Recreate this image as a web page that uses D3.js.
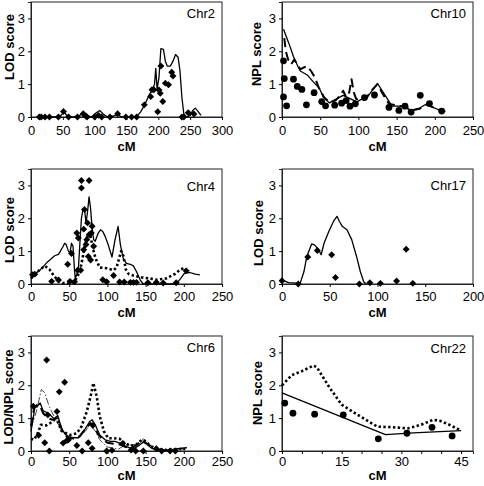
<!DOCTYPE html>
<html><head><meta charset="utf-8">
<script src="https://cdn.jsdelivr.net/npm/d3@7"></script>
<style>
html,body{margin:0;padding:0;background:#fff;}
svg{display:block;font-family:"Liberation Sans",Arial,Helvetica,sans-serif;}
</style></head>
<body><svg id="c" width="484" height="486"></svg>
<script>
// ---------- DATA ----------
const yTicks = [0, 1, 2, 3];
const chr2Ticks = [0, 50, 100, 150, 200, 250, 300];
const chr10Ticks = [0, 50, 100, 150, 200, 250];
const chr4Ticks = [0, 50, 100, 150, 200, 250];
const chr17Ticks = [0, 50, 100, 150, 200];
const chr6Ticks = [0, 50, 100, 150, 200, 250];
const chr22Ticks = [0, 15, 30, 45];
const chr22MinorTicks = [0,5,10,15,20,25,30,35,40,45];

const chr2Markers = [[13,0],[16,0],[22,0],[29,0],[43,0],[51,0.17],[59,0],[73,0],[82,0.1],[86,0.03],[88,0],[100,0],[106,0.05],[111,0],[124,0],[136,0.1],[149,0],[158,0],[166,0],[178,0.37],[188,0.62],[190,0.83],[193,0.83],[199,0.16],[201,0.82],[203,0.72],[204,1.55],[207,0.47],[211,1.03],[216,0.98],[221,1.36],[223,1.25],[237,0],[240,0],[247,0.13],[256,0.09]];
const chr2Solid = [[10,0],[40,0],[47,0.05],[52,0.15],[57,0.03],[65,0],[75,0.02],[82,0.14],[88,0.05],[95,0],[102,0.12],[108,0.2],[114,0.08],[120,0],[130,0.03],[136,0.08],[142,0],[165,0],[172,0.15],[178,0.35],[185,0.65],[191,0.85],[194,1.0],[196,1.48],[198,0.85],[201,1.2],[204,2.08],[208,2.06],[211,1.7],[214,1.55],[219,1.55],[223,1.7],[227,1.9],[231,1.82],[234,1.4],[237,0.6],[240,0.1],[244,0],[250,0.05],[254,0.2],[258,0.27],[262,0.18],[267,0.05]];

const chr10Dots = [[2,1.71],[2,0.61],[3,1.17],[6,0.34],[15,1.15],[20,0.93],[26,0.84],[32,0.37],[42,0.74],[52,0.47],[57,0.34],[69,0.36],[78,0.42],[84,0.5],[89,0.33],[96,0.4],[108,0.59],[121,0.67],[140,0.29],[153,0.2],[161,0.33],[169,0.15],[181,0.66],[193,0.41],[209,0.18]];
const chr10Solid = [[2,2.67],[9,2.24],[15,1.84],[21,1.53],[24,1.4],[33,1.28],[41,1.07],[49,0.87],[54,0.61],[62,0.43],[72,0.56],[80,0.66],[89,0.56],[98,0.46],[107,0.58],[115,0.71],[125,1.02],[135,0.66],[144,0.33],[153,0.33],[161,0.3],[169,0.2],[179,0.26],[190,0.41],[196,0.31],[205,0.22],[214,0.17]];
const chr10Dashed = [[3,2.4],[5,2.0],[8,1.75],[12,1.6],[16,1.75],[20,1.6],[24,1.45],[28,1.5],[33,1.55],[38,1.4],[43,1.2],[48,0.9],[55,0.6],[62,0.45],[70,0.5],[76,0.65],[80,0.8],[84,0.6],[88,0.75],[91,1.15],[94,0.75],[97,0.55],[103,0.5],[110,0.55],[117,0.8],[125,1.0],[132,0.7],[140,0.4],[150,0.35],[160,0.32],[170,0.2],[180,0.25],[190,0.38],[197,0.3],[205,0.22],[212,0.17]];

const chr4Markers = [[2,0.28],[5,0.3],[27,0.08],[36,0.12],[48,0.6],[53,0.93],[51,0.08],[57,0.07],[60,1.55],[62,1.4],[61,0.42],[65,0.42],[66,3.15],[66,2.92],[69,1.67],[69,1.04],[70,2.27],[72,1.2],[73,1.35],[74,1.86],[75,0.84],[76,3.15],[76,1.5],[78,0.73],[79,1.55],[80,1.76],[82,1.15],[94,0.13],[99,0.07],[108,0.26],[116,0.06],[122,0.06],[130,0.05],[134,0.05],[138,0.05],[153,0.04],[164,0.05],[173,0.03],[190,0.04],[203,0.4]];
const chr4Solid = [[0,0.22],[6,0.32],[12,0.43],[22,0.68],[31,0.86],[36,0.9],[42,1.14],[44,1.24],[46,1.2],[49,1.0],[51,0.95],[53,1.24],[55,1.15],[57,0.4],[58,0.17],[60,0.3],[62,0.45],[64,1.24],[66,2.0],[68,2.26],[70,2.3],[72,1.85],[74,2.2],[76,2.65],[78,2.3],[80,1.7],[82,1.35],[84,1.3],[88,1.55],[91,1.65],[94,1.6],[97,1.45],[101,1.2],[106,0.82],[110,1.35],[114,1.75],[117,1.2],[121,0.76],[125,0.63],[130,0.6],[134,0.55],[138,0.38],[143,0.12],[147,0],[190,0],[196,0.17],[201,0.33],[208,0.35],[215,0.3],[221,0.28]];
const chr4Dotted = [[0,0.17],[5,0.28],[10,0.4],[18,0.55],[24,0.45],[30,0.25],[36,0.1],[42,0.03],[50,0.02],[57,0.07],[62,0.3],[65,0.5],[68,0.85],[71,1.2],[74,1.5],[77,1.55],[80,1.2],[83,0.9],[86,0.7],[90,0.5],[99,0.48],[108,0.42],[112,0.5],[115,0.75],[118,1.0],[121,0.85],[124,0.45],[128,0.3],[135,0.25],[145,0.2],[155,0.17],[165,0.13],[177,0.17],[188,0.3],[196,0.45],[201,0.48],[206,0.38]];

const chr17Markers = [[0,0.1],[17,0],[27,0.82],[37,1.02],[52,0.89],[56,0.2],[81,0],[92,0.04],[103,0.02],[120,0.09],[130,1.06],[137,0.02]];
const chr17Solid = [[0,0.12],[7,0.04],[19,0.02],[23,0.38],[26,0.84],[31,1.22],[34,1.19],[38,1.06],[41,0.89],[44,1.24],[49,1.6],[54,1.91],[57.6,2.06],[60,1.91],[63,1.76],[68,1.65],[73,1.35],[78.5,0.79],[82,0.38],[85.5,0.07],[88,0]];

const chr6Markers = [[3,1.36],[10,0.48],[18,0.25],[20.5,2.77],[22,1.1],[24,0],[34,1.2],[37,1.8],[42,0.24],[44,2.09],[47,0.32],[49,0.34],[60,0.17],[67,0],[75,0.25],[80,0.08],[81,0.78],[99,0],[106,0.02],[120,0.23],[131,0.03],[137,0],[147,0],[164,0.07],[171,0],[182,0],[189,0]];
const chr6Solid = [[0,0.6],[3,1.02],[5,1.33],[8,1.35],[12,1.46],[16,1.22],[20,1.18],[25,1.1],[30,0.98],[35,1.08],[40,0.69],[45,0.5],[49,0.44],[55,0.41],[62,0.41],[70,0.64],[77,0.9],[80,0.95],[84,0.8],[90,0.49],[97,0.34],[104,0.29],[110,0.29],[117,0.23],[125,0.13],[134,0.06],[142,0.18],[147,0.27],[152,0.2],[158,0.08],[168,0.03],[182,0.03],[195,0.08],[204,0.1]];
const chr6Dashed = [[0,0.75],[4,1.3],[8,1.4],[12,1.35],[16,1.15],[22,1.0],[28,0.95],[34,1.0],[38,0.8],[42,0.55],[48,0.4],[56,0.38],[64,0.45],[72,0.7],[78,0.85],[82,0.75],[88,0.5],[94,0.35],[100,0.25],[108,0.22],[116,0.2],[124,0.12],[132,0.08],[140,0.22],[146,0.32],[152,0.22],[160,0.08],[170,0.03],[185,0.03],[200,0.06]];
const chr6Dotted = [[0,0.37],[4,0.34],[9,0.55],[13,0.8],[20,0.78],[25,0.85],[31,0.95],[35,0.9],[40,0.61],[46,0.54],[51,0.49],[60,0.54],[66,0.74],[73,1.2],[78,1.66],[81.6,2.07],[86,1.66],[90,1.05],[95.6,0.59],[101,0.39],[108,0.39],[116,0.37],[123,0.23],[131,0.16],[138,0.2],[145,0.34],[150,0.29],[156,0.16],[164,0.06],[178,0.03],[191,0.06],[202,0.06]];
const chr6DashDot = [[0,0.7],[7,1.2],[13.5,1.87],[18,1.77],[23,1.41],[27,1.2],[33.6,0.9],[40,0.64],[47,0.49],[53,0.41],[62,0.39],[70.7,0.59],[77,0.8],[84,0.61],[90,0.34],[99,0.13],[108,0.08],[114.6,0.06],[123,0.18],[132,0.18],[142.7,0.23],[147,0.37],[152,0.3],[160,0.08],[178,0.02],[204,0.1]];

const chr22Dots = [[0.7,1.46],[2.75,1.15],[8.2,1.12],[15.4,1.1],[24.2,0.37],[31.4,0.54],[37.7,0.72],[42.75,0.46]];
const chr22Dotted = [[0,2.0],[2.5,2.31],[5,2.43],[7.9,2.6],[8.75,2.55],[12,1.92],[15,1.41],[19,1.1],[24,0.74],[26.7,0.73],[31.7,0.69],[35,0.8],[38,0.95],[39.6,0.92],[41.7,0.82],[45,0.62]];
const chr22Solid = [[0,1.77],[26,0.5],[33,0.55],[45,0.62]];

// ---------- STYLES ----------
const styles = {
  solid:   {w:1.3, dash:null, color:"#000"},
  dashed:  {w:2,   dash:"9,5", color:"#000"},
  dotted:  {w:2.6, dash:"2.4,2.4", color:"#000"},
  dashdot: {w:1,   dash:"7,2,1.5,2", color:"#444"}
};

// ---------- PANELS ----------
const PW = 191, PH = 115;
const panels = [
  {title:"Chr2", ylab:"LOD score", x0:31, y0:2, xmax:300, ticks:chr2Ticks, ylabX:9, ylabY:47, titleY:13, pad:6, cmY:146,
   lines:[[chr2Solid,"solid"]], markers:chr2Markers, mtype:"diamond"},
  {title:"Chr10", ylab:"NPL score", x0:282, y0:2, xmax:250, ticks:chr10Ticks, ylabX:256, ylabY:54, titleY:13, pad:6, cmY:146,
   lines:[[chr10Dashed,"dashed"],[chr10Solid,"solid"]], markers:chr10Dots, mtype:"circle"},
  {title:"Chr4", ylab:"LOD score", x0:31, y0:169, xmax:250, ticks:chr4Ticks, ylabX:9, ylabY:230, titleY:186, pad:5, cmY:312,
   lines:[[chr4Dotted,"dotted"],[chr4Solid,"solid"]], markers:chr4Markers, mtype:"diamond"},
  {title:"Chr17", ylab:"LOD score", x0:282, y0:169, xmax:200, ticks:chr17Ticks, ylabX:258, ylabY:233, titleY:185, pad:5, cmY:312,
   lines:[[chr17Solid,"solid"]], markers:chr17Markers, mtype:"diamond"},
  {title:"Chr6", ylab:"LOD/NPL score", x0:31, y0:336, xmax:250, ticks:chr6Ticks, ylabX:8, ylabY:397, titleY:347, pad:3, cmY:475,
   lines:[[chr6DashDot,"dashdot"],[chr6Dotted,"dotted"],[chr6Dashed,"dashed"],[chr6Solid,"solid"]], markers:chr6Markers, mtype:"diamond"},
  {title:"Chr22", ylab:"NPL score", x0:282, y0:336, xmax:48, ticks:chr22Ticks, minor:chr22MinorTicks, ylabX:257, ylabY:393, titleY:348, pad:3, cmY:475,
   lines:[[chr22Dotted,"dotted"],[chr22Solid,"solid"]], markers:chr22Dots, mtype:"circle"}
];

const svg = d3.select("#c");

panels.forEach(p => {
  const g = svg.append("g").attr("transform", `translate(${p.x0},${p.y0})`);
  const x = d3.scaleLinear().domain([0, p.xmax]).range([0, PW]);
  const y = d3.scaleLinear().domain([0, 3.5]).range([PH, 0]);

  g.append("rect").attr("x",0).attr("y",0).attr("width",PW).attr("height",PH)
    .attr("fill","none").attr("stroke","#222").attr("stroke-width",1);

  const ya = g.append("g").call(d3.axisLeft(y).tickValues(yTicks).tickSize(3).tickPadding(3).tickFormat(d3.format("d")));
  ya.select(".domain").attr("stroke","#222");
  ya.selectAll("text").attr("font-size",13).attr("font-family","Liberation Sans, Arial, sans-serif").attr("fill","#000");

  const xa = g.append("g").attr("transform",`translate(0,${PH})`)
    .call(d3.axisBottom(x).tickValues(p.minor || p.ticks).tickSize(3).tickPadding(p.pad)
      .tickFormat(d => p.ticks.includes(d) ? d : ""));
  xa.select(".domain").attr("stroke","#222");
  xa.selectAll("text").attr("font-size",13).attr("font-family","Liberation Sans, Arial, sans-serif").attr("fill","#000");

  const line = d3.line().x(d => x(d[0])).y(d => y(d[1]));
  p.lines.forEach(([data, st]) => {
    const s = styles[st];
    g.append("path").datum(data).attr("d", line).attr("fill","none")
      .attr("stroke", s.color).attr("stroke-width", s.w)
      .attr("stroke-dasharray", s.dash).attr("stroke-linejoin","round");
  });

  if (p.mtype === "diamond") {
    const sym = d3.symbol().type(d3.symbolSquare).size(24);
    g.selectAll(".m").data(p.markers).enter().append("path")
      .attr("d", sym)
      .attr("transform", d => `translate(${x(d[0])},${y(d[1])}) rotate(45)`)
      .attr("fill","#000");
  } else {
    g.selectAll(".m").data(p.markers).enter().append("circle")
      .attr("cx", d => x(d[0])).attr("cy", d => y(d[1])).attr("r", 3.4).attr("fill","#000");
  }

  g.append("text").attr("x", PW - 7).attr("y", p.titleY - p.y0).attr("dy","0.35em")
    .attr("text-anchor","end").attr("font-size",13).text(p.title);

  g.append("text").attr("x", PW/2).attr("y", p.cmY - p.y0).attr("dy","0.35em")
    .attr("text-anchor","middle").attr("font-size",13).attr("font-weight","bold").text("cM");

  svg.append("text").attr("transform",`translate(${p.ylabX},${p.ylabY}) rotate(-90)`)
    .attr("dy","0.35em").attr("text-anchor","middle").attr("font-size",13).attr("font-weight","bold").text(p.ylab);
});
</script></body></html>
